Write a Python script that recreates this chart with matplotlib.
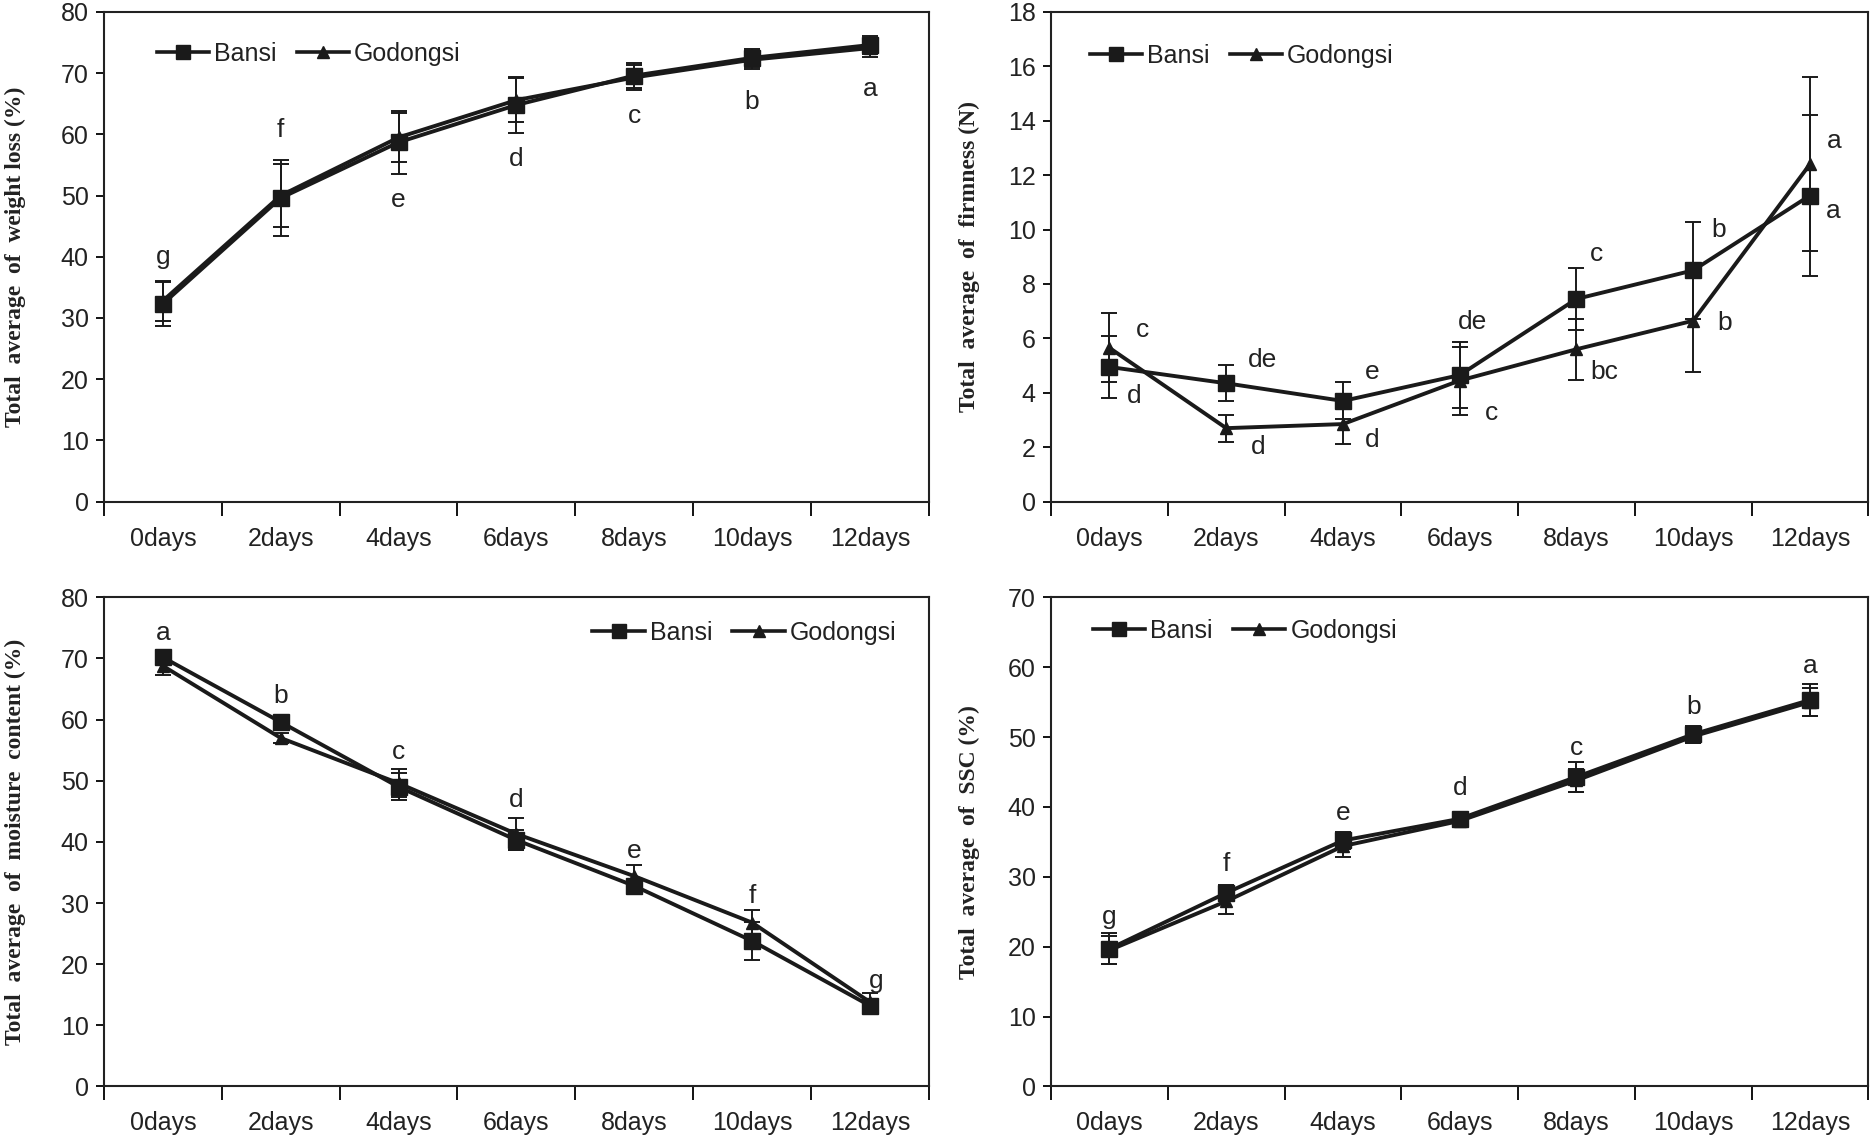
import numpy as np
import matplotlib
matplotlib.use("Agg")
import matplotlib.pyplot as plt
from matplotlib.lines import Line2D
from matplotlib.ticker import FixedLocator, NullFormatter, FixedFormatter

days = ["0days", "2days", "4days", "6days", "8days", "10days", "12days"]

# Weight loss
wl_bansi = [32.3, 49.6, 58.7, 64.8, 69.6, 72.5, 74.6]
wl_bansi_err = [3.6, 6.2, 5.1, 4.5, 2.1, 1.5, 1.5]
wl_godong = [32.8, 50.0, 59.5, 65.6, 69.3, 72.2, 74.1]
wl_godong_err = [3.3, 5.1, 4.0, 3.6, 2.0, 1.5, 1.5]
wl_letters = ["g", "f", "e", "d", "c", "b", "a"]
wl_letter_y = [40.0, 60.7, 49.3, 56.0, 63.0, 65.3, 67.4]

# Firmness
fi_bansi = [4.95, 4.35, 3.7, 4.65, 7.45, 8.5, 11.25]
fi_bansi_err = [1.13, 0.67, 0.68, 1.2, 1.15, 1.77, 2.95]
fi_godong = [5.65, 2.7, 2.85, 4.45, 5.6, 6.65, 12.4]
fi_godong_err = [1.27, 0.5, 0.75, 1.25, 1.13, 1.9, 3.2]
fi_letters_b = ["d", "de", "e", "de", "c", "b", "a"]
fi_letter_b_y = [3.9, 5.2, 4.75, 6.6, 9.1, 10.0, 10.7]
fi_letter_b_dx = [0.21, 0.31, 0.25, 0.11, 0.17, 0.22, 0.2]
fi_letters_g = ["c", "d", "d", "c", "bc", "b", "a"]
fi_letter_g_y = [6.3, 2.0, 2.25, 3.25, 4.75, 6.55, 13.26]
fi_letter_g_dx = [0.28, 0.27, 0.25, 0.27, 0.24, 0.27, 0.21]

# Moisture content
mc_bansi = [70.2, 59.6, 49.0, 40.3, 32.8, 23.8, 13.2]
mc_bansi_err = [0.8, 0.8, 2.2, 1.7, 0.8, 3.1, 0.8]
mc_godong = [68.8, 57.0, 49.6, 41.3, 34.4, 26.8, 13.8]
mc_godong_err = [1.5, 0.8, 2.3, 2.6, 1.8, 2.0, 1.5]
mc_letters = ["a", "b", "c", "d", "e", "f", "g"]
mc_letter_y = [74.2, 63.9, 54.7, 46.8, 38.5, 31.2, 17.3]

# SSC
ssc_bansi = [19.7, 27.7, 35.2, 38.3, 44.3, 50.4, 55.3]
ssc_bansi_err = [2.2, 1.2, 1.2, 0.8, 2.2, 1.2, 2.3]
ssc_godong = [19.5, 26.5, 34.4, 38.0, 43.8, 50.1, 55.0]
ssc_godong_err = [2.0, 1.8, 1.6, 0.8, 1.6, 1.0, 2.0]
ssc_letters = ["g", "f", "e", "d", "c", "b", "a"]
ssc_letter_y = [24.3, 31.8, 39.2, 42.7, 48.5, 54.3, 60.2]

NARROW = ["Liberation Sans Narrow", "Liberation Sans", "DejaVu Sans"]
SERIF = ["Liberation Serif", "DejaVu Serif"]
INK = "#1a1a1a"

fig = plt.figure(figsize=(18.72, 11.4), dpi=100)
ax1 = fig.add_axes([0.0555, 0.56, 0.4407, 0.4295])
ax2 = fig.add_axes([0.5615, 0.56, 0.4365, 0.4295])
ax3 = fig.add_axes([0.0555, 0.047, 0.4407, 0.429])
ax4 = fig.add_axes([0.5615, 0.047, 0.4365, 0.429])

x = np.arange(len(days))


def style(ax, ymax, ystep, ylabel, lab_x):
    ax.set_xlim(-0.5, 6.5)
    ax.set_ylim(0, ymax)
    ax.set_yticks(np.arange(0, ymax + 0.1, ystep))
    ax.set_yticklabels([f"{v:g}" for v in np.arange(0, ymax + 0.1, ystep)],
                       family=NARROW, fontsize=18, color="#222222")
    ax.xaxis.set_major_locator(FixedLocator(np.arange(-0.5, 7, 1.0)))
    ax.xaxis.set_major_formatter(NullFormatter())
    ax.xaxis.set_minor_locator(FixedLocator(x))
    ax.xaxis.set_minor_formatter(FixedFormatter(days))
    ax.tick_params(axis="x", which="major", direction="out", length=10, width=1.3)
    ax.tick_params(axis="x", which="minor", length=0, pad=18)
    for lbl in ax.get_xticklabels(minor=True):
        lbl.set_family(NARROW)
        lbl.set_fontsize(18)
        lbl.set_color("#222222")
    ax.tick_params(axis="y", direction="out", length=6, width=1.3, pad=5)
    for s in ax.spines.values():
        s.set_linewidth(1.5)
        s.set_color("#222222")
    ax.set_ylabel(ylabel, family=SERIF, fontweight="bold", fontsize=17, color="#222222")
    ax.yaxis.set_label_coords(lab_x, 0.5)


def series(ax, b, be, g, ge, leg_xy):
    kw = dict(color=INK, lw=2.8, capsize=5.5, elinewidth=1.4, capthick=1.4)
    ax.errorbar(x, g, yerr=ge, marker="^", markersize=9, zorder=3, **kw)
    ax.errorbar(x, b, yerr=be, marker="s", markersize=11.5, zorder=4, **kw)
    handles = [Line2D([], [], color=INK, lw=2.6, marker="s", markersize=10),
               Line2D([], [], color=INK, lw=2.6, marker="^", markersize=9)]
    leg = ax.legend(handles, ["Bansi", "Godongsi"], loc="center left", bbox_to_anchor=leg_xy,
                    ncol=2, frameon=False, handlelength=2.1, handletextpad=0.2,
                    columnspacing=0.8, borderpad=0, borderaxespad=0,
                    prop={"family": NARROW, "size": 18})
    for t in leg.get_texts():
        t.set_color("#222222")


tkw = dict(family=NARROW, fontsize=19, ha="center", va="center", color="#222222")

style(ax1, 80, 10, "Total  average  of  weight loss (%)", -0.095)
series(ax1, wl_bansi, wl_bansi_err, wl_godong, wl_godong_err, (0.064, 0.915))
for i in x:
    ax1.text(i, wl_letter_y[i], wl_letters[i], **tkw)

style(ax2, 18, 2, "Total  average  of  firmness (N)", -0.087)
series(ax2, fi_bansi, fi_bansi_err, fi_godong, fi_godong_err, (0.047, 0.91))
for i in x:
    ax2.text(i + fi_letter_b_dx[i], fi_letter_b_y[i], fi_letters_b[i], **tkw)
    ax2.text(i + fi_letter_g_dx[i], fi_letter_g_y[i], fi_letters_g[i], **tkw)

style(ax3, 80, 10, "Total  average  of  moisture  content (%)", -0.095)
series(ax3, mc_bansi, mc_bansi_err, mc_godong, mc_godong_err, (0.592, 0.927))
for i in x:
    ax3.text(i + (0.05 if i == 6 else 0), mc_letter_y[i], mc_letters[i], **tkw)

style(ax4, 70, 10, "Total  average  of  SSC (%)", -0.087)
series(ax4, ssc_bansi, ssc_bansi_err, ssc_godong, ssc_godong_err, (0.051, 0.932))
for i in x:
    ax4.text(i, ssc_letter_y[i], ssc_letters[i], **tkw)

fig.savefig("out.png", dpi=100)
